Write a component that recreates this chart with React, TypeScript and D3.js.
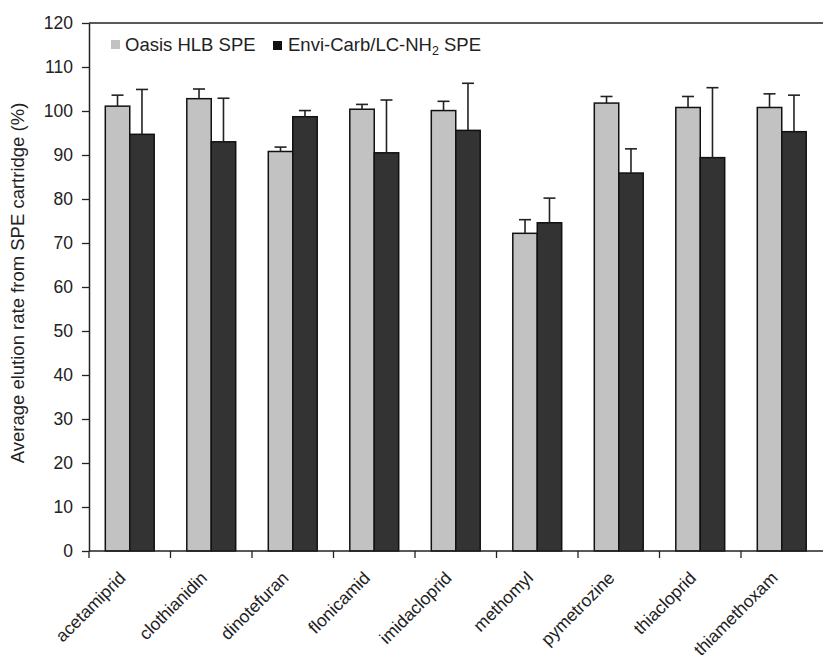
import React, { useEffect, useRef } from 'react';
import * as d3 from 'd3';

const compounds = ['acetamiprid', 'clothianidin', 'dinotefuran', 'flonicamid', 'imidacloprid', 'methomyl', 'pymetrozine', 'thiacloprid', 'thiamethoxam'];
const oasisMean = [101.1, 102.8, 90.8, 100.4, 100.1, 72.2, 101.8, 100.8, 100.8];
const oasisErr = [2.5, 2.2, 1.0, 1.1, 2.1, 3.1, 1.5, 2.5, 3.1];
const enviMean = [94.7, 93.0, 98.7, 90.5, 95.6, 74.6, 85.9, 89.4, 95.3];
const enviErr = [10.2, 9.9, 1.4, 12.0, 10.7, 5.6, 5.5, 15.9, 8.3];
const yTicks = [0, 10, 20, 30, 40, 50, 60, 70, 80, 90, 100, 110, 120];

const FONT = 'Liberation Sans, Arial, sans-serif';

const ElutionChart = () => {
    const svgRef = useRef<SVGSVGElement>(null);

    useEffect(() => {
        const svg = d3.select(svgRef.current);
        svg.selectAll('*').remove();

        const left = 89, right = 822.5, top = 23, bottom = 551;

        const x = d3.scaleBand<string>()
            .domain(compounds)
            .range([left, right])
            .paddingInner(0.4)
            .paddingOuter(0.2);
        const sub = d3.scaleBand<string>()
            .domain(['oasis', 'envi'])
            .range([0, x.bandwidth()]);
        const y = d3.scaleLinear().domain([0, 120]).range([bottom, top]);

        const series = [
            { key: 'oasis', mean: oasisMean, err: oasisErr, fill: '#c2c2c2' },
            { key: 'envi', mean: enviMean, err: enviErr, fill: '#333333' },
        ];

        // y axis
        const yAxis = svg.append('g').attr('transform', `translate(${left},0)`)
            .call(d3.axisLeft(y).tickValues(yTicks).tickSize(7).tickPadding(9).tickSizeOuter(0));
        yAxis.select('.domain').attr('stroke', '#222').attr('stroke-width', 1.5);
        yAxis.selectAll('.tick line').attr('stroke', '#222').attr('stroke-width', 1.3);
        yAxis.selectAll('.tick text').attr('font-family', FONT).attr('font-size', 17.5).attr('fill', '#222');

        // top border
        svg.append('line')
            .attr('x1', left).attr('x2', 823).attr('y1', top).attr('y2', top)
            .attr('stroke', '#222').attr('stroke-width', 1.5);

        // bars
        series.forEach(s => {
            svg.append('g').selectAll('rect')
                .data(compounds)
                .join('rect')
                .attr('x', d => x(d)! + sub(s.key)!)
                .attr('y', (d, i) => y(s.mean[i]))
                .attr('width', sub.bandwidth())
                .attr('height', (d, i) => y(0) - y(s.mean[i]))
                .attr('fill', s.fill)
                .attr('stroke', '#111')
                .attr('stroke-width', 1.5);

            const eg = svg.append('g').attr('stroke', '#222').attr('stroke-width', 1.6);
            compounds.forEach((d, i) => {
                const cx = x(d)! + sub(s.key)! + sub.bandwidth() / 2;
                eg.append('line')
                    .attr('x1', cx).attr('x2', cx)
                    .attr('y1', y(s.mean[i])).attr('y2', y(s.mean[i] + s.err[i]));
                eg.append('line')
                    .attr('x1', cx - 6).attr('x2', cx + 6)
                    .attr('y1', y(s.mean[i] + s.err[i])).attr('y2', y(s.mean[i] + s.err[i]));
            });
        });

        // x axis
        svg.append('line')
            .attr('x1', left).attr('x2', 823).attr('y1', bottom).attr('y2', bottom)
            .attr('stroke', '#222').attr('stroke-width', 1.5);
        const step = x.step();
        const boundaries = compounds.map(d => x(d)! - x.paddingOuter() * step);
        svg.append('g').selectAll('line')
            .data(boundaries)
            .join('line')
            .attr('x1', d => d).attr('x2', d => d)
            .attr('y1', bottom).attr('y2', bottom + 7)
            .attr('stroke', '#222').attr('stroke-width', 1.3);

        svg.append('g').selectAll('text')
            .data(compounds)
            .join('text')
            .attr('transform', d => `translate(${x(d)! + x.bandwidth() / 2 - 3},${bottom + 28}) rotate(-45)`)
            .attr('text-anchor', 'end')
            .attr('font-family', FONT)
            .attr('font-size', 17.5)
            .attr('fill', '#222')
            .text(d => d);

        // y title
        svg.append('text')
            .attr('transform', `translate(24,${(top + bottom) / 2 - 4}) rotate(-90)`)
            .attr('text-anchor', 'middle')
            .attr('font-family', FONT)
            .attr('font-size', 18.5)
            .attr('fill', '#222')
            .text('Average elution rate from SPE cartridge (%)');

        // legend
        const legend = svg.append('g').attr('font-family', FONT).attr('font-size', 18.5).attr('fill', '#222');
        legend.append('rect').attr('x', 111).attr('y', 40).attr('width', 9).attr('height', 9).attr('fill', '#c2c2c2');
        legend.append('text').attr('x', 125).attr('y', 51).text('Oasis HLB SPE');
        legend.append('rect').attr('x', 273).attr('y', 41).attr('width', 9).attr('height', 9).attr('fill', '#111');
        const t2 = legend.append('text').attr('x', 288).attr('y', 51);
        t2.append('tspan').text('Envi-Carb/LC-NH');
        t2.append('tspan').attr('font-size', 12.5).attr('dy', 4).text('2');
        t2.append('tspan').attr('dy', -4).text(' SPE');
    }, []);

    return (
        <svg ref={svgRef} width={823} height={660} style={{ position: 'absolute', left: 0, top: 0, background: '#fff' }}></svg>
    );
};

export default function App() {
    return <ElutionChart />;
}
